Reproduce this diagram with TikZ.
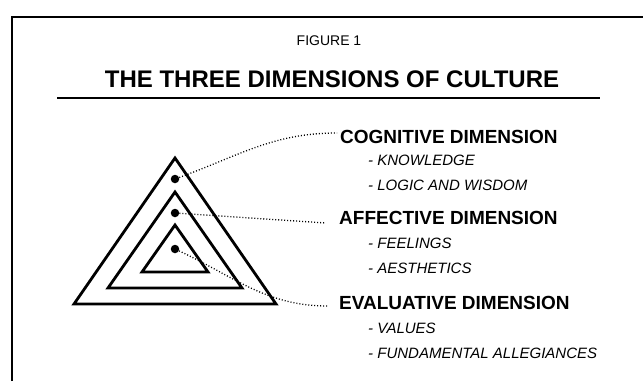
\documentclass[tikz,border=0pt]{standalone}
\usepackage{fontspec}
\setmainfont{Liberation Sans}
\usetikzlibrary{positioning}
\tikzset{
  layer/.style={line width=2.8pt, line join=miter},
  heading/.style={anchor=west, inner sep=0pt, font=\bfseries\fontsize{19}{19}\selectfont},
  item/.style={anchor=west, inner sep=0pt, font=\itshape\fontsize{15}{15}\selectfont},
  link/.style={line width=1.3pt, dash pattern=on 1pt off 2pt},
  spot/.style={circle, fill, inner sep=0pt, minimum size=8.5pt},
}
\begin{document}
\begin{tikzpicture}[x=1pt, y=-1pt]
    \useasboundingbox (0,0) rectangle (643,381);

    % Frame
    \draw[line width=2pt] (12,381) -- (12,17) -- (643,17);

    % Title
    \node[inner sep=0pt, font=\fontsize{14}{14}\selectfont] (fig) at (329,41) {FIGURE 1};
    \node[inner sep=0pt, font=\bfseries\fontsize{24}{24}\selectfont] (title) at (332,79) {THE THREE DIMENSIONS OF CULTURE};
    \draw[line width=2pt] (57,97.5) -- (600,97.5);

    % Nested triangles
    \def\xc{175}
    \draw[layer] (\xc,158) -- (\xc+101,304) -- (\xc-101,304) -- cycle;
    \draw[layer] (\xc,192) -- (\xc+67,288) -- (\xc-67,288) -- cycle;
    \draw[layer] (\xc,225) -- (\xc+33,272) -- (\xc-33,272) -- cycle;

    % Dots
    \node[spot] (dcog) at (\xc,179) {};
    \node[spot] (daff) at (\xc,213) {};
    \node[spot] (deva) at (\xc,249) {};

    % Dimensions
    \node[heading] (cog) at (340,137) {COGNITIVE DIMENSION};
    \node[item] (know) at (368,160) {- KNOWLEDGE};
    \node[item] (logic) at (368,185) {- LOGIC AND WISDOM};

    \node[heading] (aff) at (339,218) {AFFECTIVE DIMENSION};
    \node[item] (feel) at (368,243) {- FEELINGS};
    \node[item] (aest) at (368,268) {- AESTHETICS};

    \node[heading] (eva) at (339,303) {EVALUATIVE DIMENSION};
    \node[item] (val) at (368,328) {- VALUES};
    \node[item] (alleg) at (368,353) {- FUNDAMENTAL ALLEGIANCES};

    % Dotted connectors
    \draw[link] (dcog) to[out=20, in=180] ([xshift=-3pt, yshift=4pt]cog.west);
    \draw[link] (daff) -- ([xshift=-13pt, yshift=-5pt]aff.west);
    \draw[link] (deva) to[out=-25, in=180] ([xshift=-11pt, yshift=-3pt]eva.west);
\end{tikzpicture}
\end{document}
